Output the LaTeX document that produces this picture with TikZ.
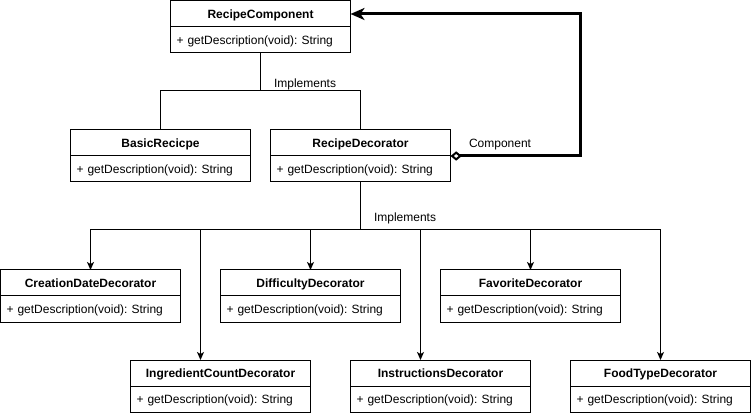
\documentclass[tikz,border=0pt]{standalone}
\usepackage{fontspec}
\setmainfont{Liberation Sans}
\usetikzlibrary{arrows.meta,calc}
\frenchspacing
\begin{document}
\begin{tikzpicture}[x=0.75pt,y=-0.75pt,
  every node/.style={font=\fontsize{9pt}{11pt}\selectfont, inner sep=0pt, outer sep=0pt},
  classhead/.style={draw, line width=0.75pt, anchor=north, minimum width=135pt, minimum height=19.5pt,
    text height=8pt, text depth=0.75pt, font=\fontsize{9pt}{11pt}\selectfont\bfseries},
  classbody/.style={draw, line width=0.75pt, anchor=north, minimum width=135pt, minimum height=19.5pt,
    text height=7.6pt, text depth=0.75pt, text width=126pt, inner xsep=4.5pt, align=left},
  link/.style={line width=0.75pt},
  impl/.style={link, -{Stealth[length=6pt,width=5.25pt,inset=1.5pt]}},
  agg/.style={line width=2.25pt,
    {Diamond[open,length=8.5pt,width=7pt,line width=1.5pt]}-{Stealth[length=10.5pt,width=9pt,inset=3pt]}},
  lbl/.style={anchor=west}
]
\fill[white] (0,0) rectangle (752,416);
\useasboundingbox (0,0) rectangle (752,416);

% top interface
\node[classhead] (rc) at (260.5,1) {RecipeComponent};
\node[classbody] (rcb) at (rc.south) {+ getDescription(void): String};

% second row
\node[classhead] (br) at (160.5,130) {BasicRecicpe};
\node[classbody] (brb) at (br.south) {+ getDescription(void): String};
\node[classhead] (rd) at (360.5,130) {RecipeDecorator};
\node[classbody] (rdb) at (rd.south) {+ getDescription(void): String};

% concrete decorators, upper row
\node[classhead] (cd) at (90.5,270) {CreationDateDecorator};
\node[classbody] (cdb) at (cd.south) {+ getDescription(void): String};
\node[classhead] (dd) at (310.5,270) {DifficultyDecorator};
\node[classbody] (ddb) at (dd.south) {+ getDescription(void): String};
\node[classhead] (fd) at (530.5,270) {FavoriteDecorator};
\node[classbody] (fdb) at (fd.south) {+ getDescription(void): String};

% concrete decorators, lower row
\node[classhead] (ic) at (220.5,360) {IngredientCountDecorator};
\node[classbody] (icb) at (ic.south) {+ getDescription(void): String};
\node[classhead] (id) at (440.5,360) {InstructionsDecorator};
\node[classbody] (idb) at (id.south) {+ getDescription(void): String};
\node[classhead] (ft) at (660.5,360) {FoodTypeDecorator};
\node[classbody] (ftb) at (ft.south) {+ getDescription(void): String};

% implements: component -> basic recipe / decorator
\coordinate (j1) at (260.5,91);
\draw[link] (rcb.south) -- (j1) -| (br.north);
\draw[link] (j1) -| (rd.north);
\node[lbl] (impl1) at (274,84) {Implements};

% implements: decorator -> concrete decorators
\coordinate (j2) at (360.5,230);
\coordinate (icin) at ($(ic.north)+(-20,0)$);
\coordinate (idin) at ($(id.north)+(-20,0)$);
\draw[link] (rdb.south) -- (j2);
\draw[impl] (j2) -| (cd.north);
\draw[impl] (j2) -| (ft.north);
\draw[impl] (j2 -| icin) -- (icin);
\draw[impl] (j2 -| dd.north) -- (dd.north);
\draw[impl] (j2 -| idin) -- (idin);
\draw[impl] (j2 -| fd.north) -- (fd.north);
\node[lbl] (impl2) at (374,218) {Implements};

% aggregation: decorator wraps a component
\draw[agg] (rd.south east) -- ++(130,0) |- (rc.east);
\node[lbl] (comp) at (469,145) {Component};
\end{tikzpicture}
\end{document}
